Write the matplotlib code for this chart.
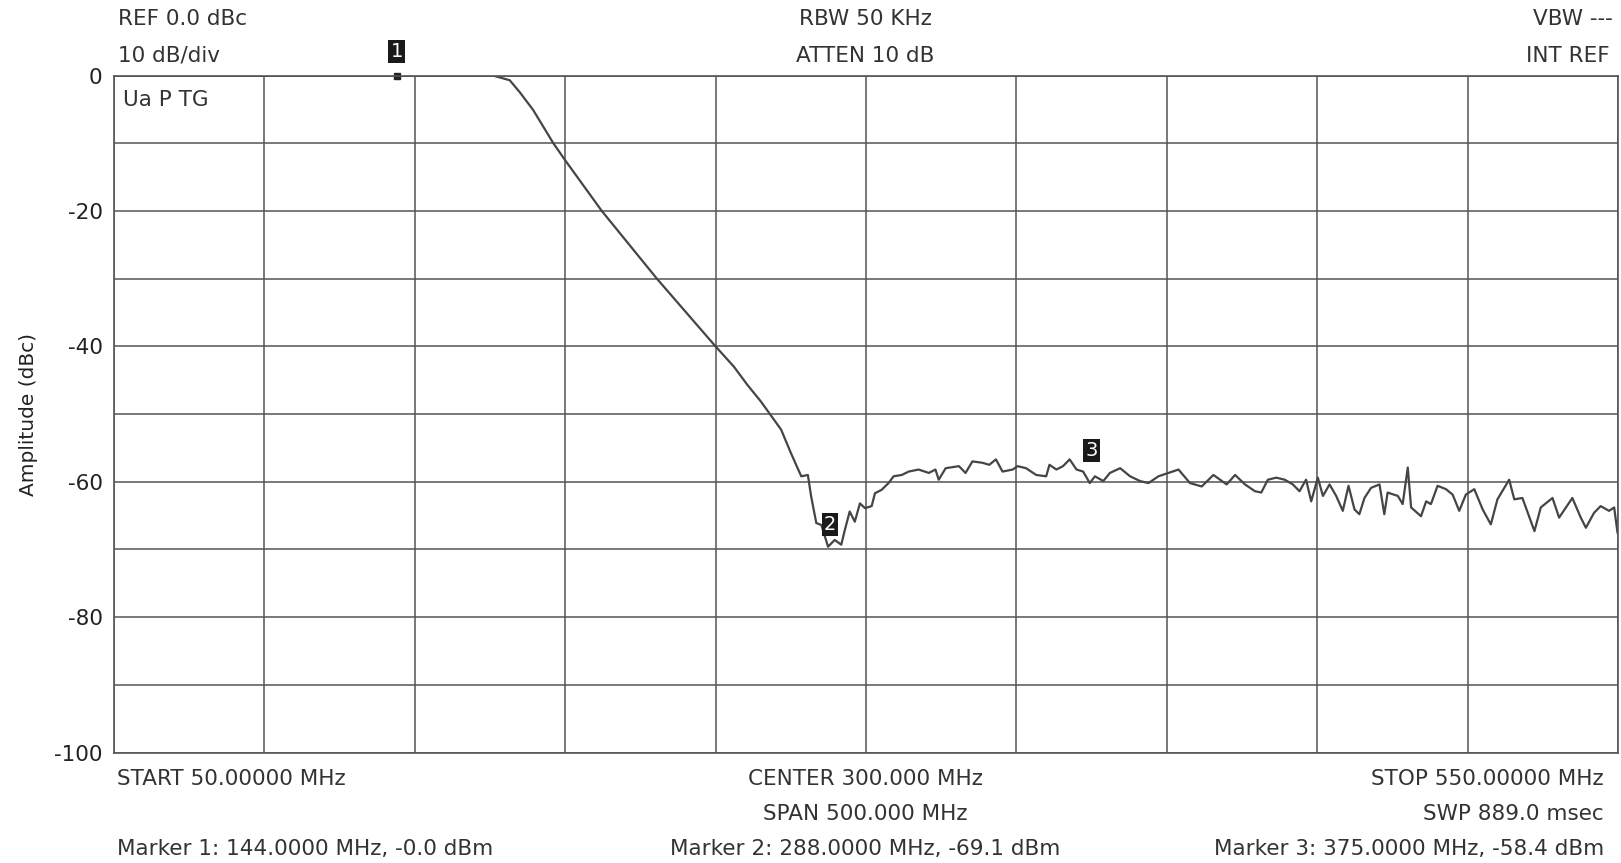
import matplotlib.pyplot as plt

plt.rcParams['font.family'] = ['DejaVu Sans']

# trace: frequency (MHz) and amplitude (dBc)
freq = [50, 100, 150, 170, 176, 181.6, 185, 189.4, 196.1, 200, 212.2, 230.5, 250,
        256.1, 260.6, 265, 271.8, 275.1, 278.5, 280.7, 281.8, 283.5, 285.2, 287.4,
        289.6, 291.8, 293, 294.6, 296.3, 298, 299.7, 301.9, 303, 305.2, 307.5, 309.2,
        311.9, 314.2, 317.5, 320.9, 323.1, 324.2, 326.5, 330.9, 333.1, 335.4, 338.7,
        341, 343.2, 345.4, 348.8, 350.4, 353.2, 356.6, 359.9, 361, 363.3, 365.5,
        367.7, 370, 372.2, 374.4, 376.1, 378.9, 381.1, 384.5, 387.8, 391.1, 393.9,
        397.2, 403.9, 407.7, 411.6, 415.5, 419.9, 422.7, 426, 429.3,
        431.4, 433.6, 436.4, 439.2, 441.9, 444.1, 446.3, 448, 450.2, 451.9, 454.1,
        456.3, 458.5, 460.4, 462.4, 464, 465.7, 467.9, 470.7, 472.3, 473.4, 476.8,
        478.4, 480.1, 481.2, 484.5, 486.2, 487.8, 490, 492.8, 495, 497.2, 499.4,
        502.2, 505, 507.7, 509.9, 513.8, 515.5, 518.2, 522.2, 524.3, 528.2, 530.4,
        534.8, 537.6, 539.3, 542, 544.2, 547, 548.7, 549.8]
amp = [0, 0, 0, 0, 0, -0.7, -2.5, -5.1, -10, -12.5, -20, -30, -40,
       -43, -45.7, -48.1, -52.3, -55.8, -59.2, -59, -62.2, -66.1, -66.4, -69.6,
       -68.6, -69.3, -67.1, -64.4, -65.9, -63.2, -63.9, -63.6, -61.7, -61.2, -60.2, -59.2,
       -59, -58.5, -58.2, -58.7, -58.2, -59.7, -58, -57.7, -58.7, -57, -57.2,
       -57.5, -56.7, -58.5, -58.2, -57.7, -58, -59, -59.2, -57.5, -58.2, -57.7,
       -56.7, -58.2, -58.5, -60.2, -59.2, -59.9, -58.7, -58, -59.2, -59.9, -60.2,
       -59.2, -58.2, -60.2, -60.7, -59, -60.4, -59, -60.4, -61.4,
       -61.6, -59.7, -59.4, -59.7, -60.4, -61.4, -59.7, -62.9, -59.4, -62.1, -60.4,
       -62.1, -64.3, -60.6, -64.1, -64.8, -62.4, -60.9, -60.4, -64.8, -61.6, -62.1,
       -63.3, -57.9, -63.8, -65.1, -62.9, -63.3, -60.6, -61.1, -61.9, -64.3, -61.9,
       -61.1, -64.1, -66.3, -62.6, -59.7, -62.6, -62.4, -67.3, -63.8, -62.4, -65.3,
       -62.4, -65.3, -66.8, -64.6, -63.6, -64.3, -63.8, -67.5]

y_ticks = [0, -20, -40, -60, -80, -100]
marker_ids = ['1', '2', '3']
marker_freq = [144, 288, 375]
marker_amp = [0.0, -69.1, -58.4]

ink = '#333333'
fig = plt.figure(figsize=(16.21, 8.63), dpi=100)
ax = fig.add_axes([0.0702, 0.128, 0.928, 0.7845])
ax.plot(freq, amp, color='#454545', lw=1.6)
ax.set_xlim(50, 550)
ax.set_ylim(-100, 0)
ax.set_xticks(range(50, 551, 50))
ax.set_yticks(range(-100, 1, 10))
ax.set_yticklabels([str(v) if v in y_ticks else '' for v in range(-100, 1, 10)])
ax.tick_params(length=0, labelsize=15.5, pad=8, colors='#222222', labelbottom=False)
ax.grid(True, color='#555555', lw=1.1)
for s in ax.spines.values():
    s.set_color('#555555')
    s.set_linewidth(1.2)
ax.set_ylabel('Amplitude (dBc)', fontsize=14.5, color='#222222', labelpad=12)

# markers: black boxes with white numbers
box = dict(boxstyle='square,pad=0.1', fc='#1a1a1a', ec='none')
ax.plot(marker_freq[0], marker_amp[0], 's', color='#222222', ms=4, clip_on=False)
ax.text(marker_freq[0], 3.5, marker_ids[0], color='white', fontsize=14, ha='center',
        va='center', bbox=box, clip_on=False)
ax.text(marker_freq[1], -66.3, marker_ids[1], color='white', fontsize=14, ha='center',
        va='center', bbox=box)
ax.text(marker_freq[2], -55.4, marker_ids[2], color='white', fontsize=14, ha='center',
        va='center', bbox=box)

ax.text(0.006, 0.955, 'Ua P TG', transform=ax.transAxes, fontsize=15.5, va='baseline',
        color=ink)

tk = dict(fontsize=15.5, color=ink, va='baseline', transform=fig.transFigure)
fig.text(0.0728, 0.971, 'REF 0.0 dBc', **tk)
fig.text(0.0728, 0.9285, '10 dB/div', **tk)
fig.text(0.5338, 0.971, 'RBW 50 KHz', ha='center', **tk)
fig.text(0.5338, 0.9285, 'ATTEN 10 dB', ha='center', **tk)
fig.text(0.995, 0.971, 'VBW ---', ha='right', **tk)
fig.text(0.993, 0.9285, 'INT REF', ha='right', **tk)

fig.text(0.072, 0.0904, 'START 50.00000 MHz', **tk)
fig.text(0.5338, 0.0904, 'CENTER 300.000 MHz', ha='center', **tk)
fig.text(0.9895, 0.0904, 'STOP 550.00000 MHz', ha='right', **tk)
fig.text(0.5338, 0.0498, 'SPAN 500.000 MHz', ha='center', **tk)
fig.text(0.9895, 0.0498, 'SWP 889.0 msec', ha='right', **tk)
fig.text(0.072, 0.009, 'Marker 1: %.4f MHz, -%.1f dBm' % (marker_freq[0], abs(marker_amp[0])),
         **tk)
fig.text(0.5338, 0.009, 'Marker 2: %.4f MHz, %.1f dBm' % (marker_freq[1], marker_amp[1]),
         ha='center', **tk)
fig.text(0.9895, 0.009, 'Marker 3: %.4f MHz, %.1f dBm' % (marker_freq[2], marker_amp[2]),
         ha='right', **tk)

fig.savefig('out.png', dpi=100)
